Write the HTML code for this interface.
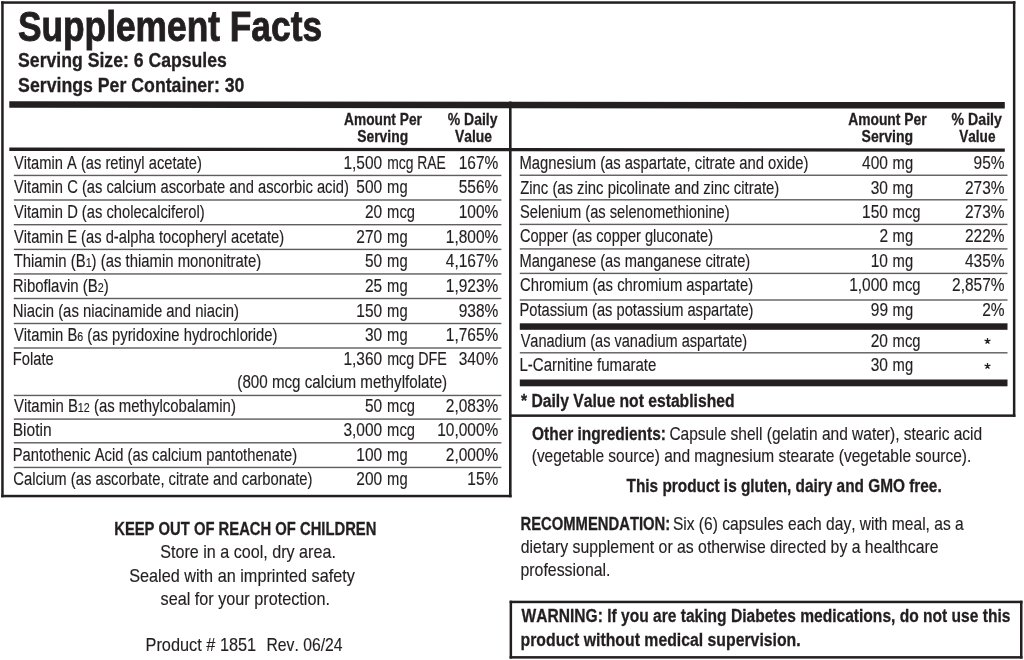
<!DOCTYPE html>
<html><head><meta charset="utf-8"><title>Supplement Facts</title>
<style>
html,body{margin:0;padding:0;background:#fff;}
body{width:1024px;height:660px;overflow:hidden;}
svg{display:block;filter:blur(0.3px);}
text{font-family:"Liberation Sans",sans-serif;font-kerning:none;stroke:#231f20;stroke-width:0.15px;}
text[font-weight=bold]{stroke-width:0.3px;}
text.title{stroke-width:0.9px;}
</style></head><body>
<svg width="1024" height="660" viewBox="0 0 1024 660">
<rect width="1024" height="660" fill="#fff"/>
<rect x="1.20" y="1.30" width="1014.20" height="2.50" fill="#231f20"/>
<rect x="1.20" y="1.30" width="2.50" height="496.00" fill="#231f20"/>
<rect x="1.20" y="494.80" width="510.40" height="2.50" fill="#231f20"/>
<rect x="509.00" y="101.50" width="2.60" height="395.80" fill="#231f20"/>
<rect x="1012.90" y="1.30" width="2.50" height="415.60" fill="#231f20"/>
<rect x="509.30" y="414.40" width="506.10" height="2.50" fill="#231f20"/>
<text class="title" x="17.88" y="40.50" font-size="43.00" font-weight="bold" textLength="304.17" lengthAdjust="spacingAndGlyphs" fill="#231f20">Supplement Facts</text>
<text x="18.09" y="66.70" font-size="20.00" font-weight="bold" textLength="208.73" lengthAdjust="spacingAndGlyphs" fill="#231f20">Serving Size: 6 Capsules</text>
<text x="18.09" y="92.00" font-size="20.00" font-weight="bold" textLength="226.39" lengthAdjust="spacingAndGlyphs" fill="#231f20">Servings Per Container: 30</text>
<polygon points="9.30,101.20 1004.80,102.10 1004.80,108.60 9.30,107.70" fill="#231f20"/>
<polygon points="9.30,147.50 1004.80,148.60 1004.80,151.80 9.30,150.90" fill="#231f20"/>
<text x="344.06" y="124.80" font-size="16.50" font-weight="bold" textLength="77.85" lengthAdjust="spacingAndGlyphs" fill="#231f20">Amount Per</text>
<text x="357.20" y="142.20" font-size="16.50" font-weight="bold" textLength="50.93" lengthAdjust="spacingAndGlyphs" fill="#231f20">Serving</text>
<text x="447.85" y="124.80" font-size="16.50" font-weight="bold" textLength="49.62" lengthAdjust="spacingAndGlyphs" fill="#231f20">% Daily</text>
<text x="454.91" y="142.20" font-size="16.50" font-weight="bold" textLength="37.07" lengthAdjust="spacingAndGlyphs" fill="#231f20">Value</text>
<text x="848.16" y="124.90" font-size="16.50" font-weight="bold" textLength="78.45" lengthAdjust="spacingAndGlyphs" fill="#231f20">Amount Per</text>
<text x="861.60" y="141.70" font-size="16.50" font-weight="bold" textLength="51.54" lengthAdjust="spacingAndGlyphs" fill="#231f20">Serving</text>
<text x="951.55" y="124.90" font-size="16.50" font-weight="bold" textLength="50.33" lengthAdjust="spacingAndGlyphs" fill="#231f20">% Daily</text>
<text x="959.21" y="141.70" font-size="16.50" font-weight="bold" textLength="36.26" lengthAdjust="spacingAndGlyphs" fill="#231f20">Value</text>
<rect x="13.80" y="174.75" width="487.60" height="1.40" fill="#5f5d5d"/>
<rect x="13.80" y="199.30" width="487.60" height="1.40" fill="#5f5d5d"/>
<rect x="13.80" y="224.00" width="487.60" height="1.40" fill="#5f5d5d"/>
<rect x="13.80" y="248.70" width="487.60" height="1.40" fill="#5f5d5d"/>
<rect x="13.80" y="273.25" width="487.60" height="1.40" fill="#5f5d5d"/>
<rect x="13.80" y="297.80" width="487.60" height="1.40" fill="#5f5d5d"/>
<rect x="13.80" y="322.80" width="487.60" height="1.40" fill="#5f5d5d"/>
<rect x="13.80" y="347.30" width="487.60" height="1.40" fill="#5f5d5d"/>
<rect x="13.80" y="394.75" width="487.60" height="1.40" fill="#5f5d5d"/>
<rect x="13.80" y="418.40" width="487.60" height="1.40" fill="#5f5d5d"/>
<rect x="13.80" y="442.10" width="487.60" height="1.40" fill="#5f5d5d"/>
<rect x="13.80" y="466.75" width="487.60" height="1.40" fill="#5f5d5d"/>
<text x="13.94" y="168.90" font-size="17.60" textLength="187.88" lengthAdjust="spacingAndGlyphs" fill="#231f20">Vitamin A (as retinyl acetate)</text>
<text x="343.45" y="168.90" font-size="17.60" textLength="38.75" lengthAdjust="spacingAndGlyphs" fill="#231f20">1,500</text>
<text x="387.18" y="168.90" font-size="17.60" textLength="58.62" lengthAdjust="spacingAndGlyphs" fill="#231f20">mcg RAE</text>
<text x="458.75" y="168.90" font-size="17.60" textLength="39.60" lengthAdjust="spacingAndGlyphs" fill="#231f20">167%</text>
<text x="13.94" y="193.40" font-size="17.60" textLength="334.88" lengthAdjust="spacingAndGlyphs" fill="#231f20">Vitamin C (as calcium ascorbate and ascorbic acid)</text>
<text x="356.37" y="193.40" font-size="17.60" textLength="25.84" lengthAdjust="spacingAndGlyphs" fill="#231f20">500</text>
<text x="387.12" y="193.40" font-size="17.60" textLength="20.48" lengthAdjust="spacingAndGlyphs" fill="#231f20">mg</text>
<text x="458.75" y="193.40" font-size="17.60" textLength="39.60" lengthAdjust="spacingAndGlyphs" fill="#231f20">556%</text>
<text x="13.94" y="218.00" font-size="17.60" textLength="190.68" lengthAdjust="spacingAndGlyphs" fill="#231f20">Vitamin D (as cholecalciferol)</text>
<text x="364.98" y="218.00" font-size="17.60" textLength="17.22" lengthAdjust="spacingAndGlyphs" fill="#231f20">20</text>
<text x="387.12" y="218.00" font-size="17.60" textLength="27.85" lengthAdjust="spacingAndGlyphs" fill="#231f20">mcg</text>
<text x="458.75" y="218.00" font-size="17.60" textLength="39.60" lengthAdjust="spacingAndGlyphs" fill="#231f20">100%</text>
<text x="13.94" y="242.80" font-size="17.60" textLength="270.28" lengthAdjust="spacingAndGlyphs" fill="#231f20">Vitamin E (as d-alpha tocopheryl acetate)</text>
<text x="356.37" y="242.80" font-size="17.60" textLength="25.84" lengthAdjust="spacingAndGlyphs" fill="#231f20">270</text>
<text x="387.12" y="242.80" font-size="17.60" textLength="20.48" lengthAdjust="spacingAndGlyphs" fill="#231f20">mg</text>
<text x="445.83" y="242.80" font-size="17.60" textLength="52.52" lengthAdjust="spacingAndGlyphs" fill="#231f20">1,800%</text>
<text x="13.67" y="267.30" font-size="17.60" textLength="247.56" lengthAdjust="spacingAndGlyphs" fill="#231f20">Thiamin (B<tspan font-size="12.67">1</tspan>) (as thiamin mononitrate)</text>
<text x="364.98" y="267.30" font-size="17.60" textLength="17.22" lengthAdjust="spacingAndGlyphs" fill="#231f20">50</text>
<text x="387.12" y="267.30" font-size="17.60" textLength="20.48" lengthAdjust="spacingAndGlyphs" fill="#231f20">mg</text>
<text x="445.83" y="267.30" font-size="17.60" textLength="52.52" lengthAdjust="spacingAndGlyphs" fill="#231f20">4,167%</text>
<text x="12.77" y="291.80" font-size="17.60" textLength="95.96" lengthAdjust="spacingAndGlyphs" fill="#231f20">Riboflavin (B<tspan font-size="12.67">2</tspan>)</text>
<text x="365.03" y="291.80" font-size="17.60" textLength="17.22" lengthAdjust="spacingAndGlyphs" fill="#231f20">25</text>
<text x="387.12" y="291.80" font-size="17.60" textLength="20.48" lengthAdjust="spacingAndGlyphs" fill="#231f20">mg</text>
<text x="445.83" y="291.80" font-size="17.60" textLength="52.52" lengthAdjust="spacingAndGlyphs" fill="#231f20">1,923%</text>
<text x="12.78" y="316.80" font-size="17.60" textLength="226.24" lengthAdjust="spacingAndGlyphs" fill="#231f20">Niacin (as niacinamide and niacin)</text>
<text x="356.37" y="316.80" font-size="17.60" textLength="25.84" lengthAdjust="spacingAndGlyphs" fill="#231f20">150</text>
<text x="387.12" y="316.80" font-size="17.60" textLength="20.48" lengthAdjust="spacingAndGlyphs" fill="#231f20">mg</text>
<text x="458.75" y="316.80" font-size="17.60" textLength="39.60" lengthAdjust="spacingAndGlyphs" fill="#231f20">938%</text>
<text x="13.93" y="341.20" font-size="17.60" textLength="263.58" lengthAdjust="spacingAndGlyphs" fill="#231f20">Vitamin B<tspan font-size="12.67">6</tspan> (as pyridoxine hydrochloride)</text>
<text x="364.98" y="341.20" font-size="17.60" textLength="17.22" lengthAdjust="spacingAndGlyphs" fill="#231f20">30</text>
<text x="387.12" y="341.20" font-size="17.60" textLength="20.48" lengthAdjust="spacingAndGlyphs" fill="#231f20">mg</text>
<text x="445.83" y="341.20" font-size="17.60" textLength="52.52" lengthAdjust="spacingAndGlyphs" fill="#231f20">1,765%</text>
<text x="12.79" y="365.20" font-size="17.60" textLength="40.96" lengthAdjust="spacingAndGlyphs" fill="#231f20">Folate</text>
<text x="343.45" y="365.20" font-size="17.60" textLength="38.75" lengthAdjust="spacingAndGlyphs" fill="#231f20">1,360</text>
<text x="387.15" y="365.20" font-size="17.60" textLength="59.67" lengthAdjust="spacingAndGlyphs" fill="#231f20">mcg DFE</text>
<text x="458.75" y="365.20" font-size="17.60" textLength="39.60" lengthAdjust="spacingAndGlyphs" fill="#231f20">340%</text>
<text x="13.93" y="412.40" font-size="17.60" textLength="221.99" lengthAdjust="spacingAndGlyphs" fill="#231f20">Vitamin B<tspan font-size="12.67">12</tspan> (as methylcobalamin)</text>
<text x="364.98" y="412.40" font-size="17.60" textLength="17.22" lengthAdjust="spacingAndGlyphs" fill="#231f20">50</text>
<text x="387.12" y="412.40" font-size="17.60" textLength="27.85" lengthAdjust="spacingAndGlyphs" fill="#231f20">mcg</text>
<text x="445.83" y="412.40" font-size="17.60" textLength="52.52" lengthAdjust="spacingAndGlyphs" fill="#231f20">2,083%</text>
<text x="12.72" y="436.20" font-size="17.60" textLength="38.88" lengthAdjust="spacingAndGlyphs" fill="#231f20">Biotin</text>
<text x="343.45" y="436.20" font-size="17.60" textLength="38.75" lengthAdjust="spacingAndGlyphs" fill="#231f20">3,000</text>
<text x="387.12" y="436.20" font-size="17.60" textLength="27.85" lengthAdjust="spacingAndGlyphs" fill="#231f20">mcg</text>
<text x="437.22" y="436.20" font-size="17.60" textLength="61.13" lengthAdjust="spacingAndGlyphs" fill="#231f20">10,000%</text>
<text x="12.79" y="460.90" font-size="17.60" textLength="284.42" lengthAdjust="spacingAndGlyphs" fill="#231f20">Pantothenic Acid (as calcium pantothenate)</text>
<text x="356.37" y="460.90" font-size="17.60" textLength="25.84" lengthAdjust="spacingAndGlyphs" fill="#231f20">100</text>
<text x="387.12" y="460.90" font-size="17.60" textLength="20.48" lengthAdjust="spacingAndGlyphs" fill="#231f20">mg</text>
<text x="445.83" y="460.90" font-size="17.60" textLength="52.52" lengthAdjust="spacingAndGlyphs" fill="#231f20">2,000%</text>
<text x="13.25" y="485.40" font-size="17.60" textLength="299.27" lengthAdjust="spacingAndGlyphs" fill="#231f20">Calcium (as ascorbate, citrate and carbonate)</text>
<text x="356.37" y="485.40" font-size="17.60" textLength="25.84" lengthAdjust="spacingAndGlyphs" fill="#231f20">200</text>
<text x="387.12" y="485.40" font-size="17.60" textLength="20.48" lengthAdjust="spacingAndGlyphs" fill="#231f20">mg</text>
<text x="467.36" y="485.40" font-size="17.60" textLength="30.99" lengthAdjust="spacingAndGlyphs" fill="#231f20">15%</text>
<text x="237.36" y="388.40" font-size="17.60" textLength="209.78" lengthAdjust="spacingAndGlyphs" fill="#231f20">(800 mcg calcium methylfolate)</text>
<rect x="519.80" y="174.55" width="487.70" height="1.40" fill="#5f5d5d"/>
<rect x="519.80" y="199.10" width="487.70" height="1.40" fill="#5f5d5d"/>
<rect x="519.80" y="223.70" width="487.70" height="1.40" fill="#5f5d5d"/>
<rect x="519.80" y="248.20" width="487.70" height="1.40" fill="#5f5d5d"/>
<rect x="519.80" y="272.70" width="487.70" height="1.40" fill="#5f5d5d"/>
<rect x="519.80" y="299.30" width="487.70" height="1.40" fill="#5f5d5d"/>
<rect x="519.80" y="352.10" width="487.70" height="1.40" fill="#5f5d5d"/>
<rect x="519.80" y="323.30" width="487.70" height="6.50" fill="#231f20"/>
<rect x="519.80" y="379.50" width="487.70" height="6.80" fill="#231f20"/>
<text x="519.49" y="169.00" font-size="17.60" textLength="288.93" lengthAdjust="spacingAndGlyphs" fill="#231f20">Magnesium (as aspartate, citrate and oxide)</text>
<text x="862.07" y="169.00" font-size="17.60" textLength="25.84" lengthAdjust="spacingAndGlyphs" fill="#231f20">400</text>
<text x="892.62" y="169.00" font-size="17.60" textLength="20.48" lengthAdjust="spacingAndGlyphs" fill="#231f20">mg</text>
<text x="973.56" y="169.00" font-size="17.60" textLength="30.99" lengthAdjust="spacingAndGlyphs" fill="#231f20">95%</text>
<text x="520.23" y="193.50" font-size="17.60" textLength="258.99" lengthAdjust="spacingAndGlyphs" fill="#231f20">Zinc (as zinc picolinate and zinc citrate)</text>
<text x="870.68" y="193.50" font-size="17.60" textLength="17.22" lengthAdjust="spacingAndGlyphs" fill="#231f20">30</text>
<text x="892.62" y="193.50" font-size="17.60" textLength="20.48" lengthAdjust="spacingAndGlyphs" fill="#231f20">mg</text>
<text x="964.95" y="193.50" font-size="17.60" textLength="39.60" lengthAdjust="spacingAndGlyphs" fill="#231f20">273%</text>
<text x="520.03" y="217.90" font-size="17.60" textLength="209.58" lengthAdjust="spacingAndGlyphs" fill="#231f20">Selenium (as selenomethionine)</text>
<text x="862.07" y="217.90" font-size="17.60" textLength="25.84" lengthAdjust="spacingAndGlyphs" fill="#231f20">150</text>
<text x="892.62" y="217.90" font-size="17.60" textLength="27.85" lengthAdjust="spacingAndGlyphs" fill="#231f20">mcg</text>
<text x="964.95" y="217.90" font-size="17.60" textLength="39.60" lengthAdjust="spacingAndGlyphs" fill="#231f20">273%</text>
<text x="519.96" y="242.20" font-size="17.60" textLength="193.15" lengthAdjust="spacingAndGlyphs" fill="#231f20">Copper (as copper gluconate)</text>
<text x="879.47" y="242.20" font-size="17.60" textLength="8.61" lengthAdjust="spacingAndGlyphs" fill="#231f20">2</text>
<text x="892.62" y="242.20" font-size="17.60" textLength="20.48" lengthAdjust="spacingAndGlyphs" fill="#231f20">mg</text>
<text x="964.95" y="242.20" font-size="17.60" textLength="39.60" lengthAdjust="spacingAndGlyphs" fill="#231f20">222%</text>
<text x="519.50" y="267.00" font-size="17.60" textLength="230.71" lengthAdjust="spacingAndGlyphs" fill="#231f20">Manganese (as manganese citrate)</text>
<text x="870.68" y="267.00" font-size="17.60" textLength="17.22" lengthAdjust="spacingAndGlyphs" fill="#231f20">10</text>
<text x="892.62" y="267.00" font-size="17.60" textLength="20.48" lengthAdjust="spacingAndGlyphs" fill="#231f20">mg</text>
<text x="964.95" y="267.00" font-size="17.60" textLength="39.60" lengthAdjust="spacingAndGlyphs" fill="#231f20">435%</text>
<text x="519.95" y="291.30" font-size="17.60" textLength="233.17" lengthAdjust="spacingAndGlyphs" fill="#231f20">Chromium (as chromium aspartate)</text>
<text x="849.15" y="291.30" font-size="17.60" textLength="38.75" lengthAdjust="spacingAndGlyphs" fill="#231f20">1,000</text>
<text x="892.62" y="291.30" font-size="17.60" textLength="27.85" lengthAdjust="spacingAndGlyphs" fill="#231f20">mcg</text>
<text x="952.03" y="291.30" font-size="17.60" textLength="52.52" lengthAdjust="spacingAndGlyphs" fill="#231f20">2,857%</text>
<text x="519.50" y="316.10" font-size="17.60" textLength="234.01" lengthAdjust="spacingAndGlyphs" fill="#231f20">Potassium (as potassium aspartate)</text>
<text x="870.81" y="316.10" font-size="17.60" textLength="17.22" lengthAdjust="spacingAndGlyphs" fill="#231f20">99</text>
<text x="892.62" y="316.10" font-size="17.60" textLength="20.48" lengthAdjust="spacingAndGlyphs" fill="#231f20">mg</text>
<text x="982.17" y="316.10" font-size="17.60" textLength="22.38" lengthAdjust="spacingAndGlyphs" fill="#231f20">2%</text>
<text x="520.64" y="347.20" font-size="17.60" textLength="226.57" lengthAdjust="spacingAndGlyphs" fill="#231f20">Vanadium (as vanadium aspartate)</text>
<text x="870.68" y="347.20" font-size="17.60" textLength="17.22" lengthAdjust="spacingAndGlyphs" fill="#231f20">20</text>
<text x="892.62" y="347.20" font-size="17.60" textLength="27.85" lengthAdjust="spacingAndGlyphs" fill="#231f20">mcg</text>
<text x="519.47" y="371.00" font-size="17.60" textLength="136.90" lengthAdjust="spacingAndGlyphs" fill="#231f20">L-Carnitine fumarate</text>
<text x="870.68" y="371.00" font-size="17.60" textLength="17.22" lengthAdjust="spacingAndGlyphs" fill="#231f20">30</text>
<text x="892.62" y="371.00" font-size="17.60" textLength="20.48" lengthAdjust="spacingAndGlyphs" fill="#231f20">mg</text>
<path d="M987.50 341.20L987.50 338.10M987.50 341.20L990.45 340.24M987.50 341.20L989.32 343.71M987.50 341.20L985.68 343.71M987.50 341.20L984.55 340.24" stroke="#231f20" stroke-width="1.30" stroke-linecap="butt"/>
<path d="M987.50 366.00L987.50 362.90M987.50 366.00L990.45 365.04M987.50 366.00L989.32 368.51M987.50 366.00L985.68 368.51M987.50 366.00L984.55 365.04" stroke="#231f20" stroke-width="1.30" stroke-linecap="butt"/>
<text x="520.95" y="407.00" font-size="18.00" font-weight="bold" textLength="213.58" lengthAdjust="spacingAndGlyphs" fill="#231f20">* Daily Value not established</text>
<text x="532.07" y="439.90" font-size="18.50" font-weight="bold" textLength="133.82" lengthAdjust="spacingAndGlyphs" fill="#231f20">Other ingredients:</text>
<text x="669.41" y="439.90" font-size="18.50" textLength="312.79" lengthAdjust="spacingAndGlyphs" fill="#231f20">Capsule shell (gelatin and water), stearic acid</text>
<text x="531.74" y="462.20" font-size="18.50" textLength="439.47" lengthAdjust="spacingAndGlyphs" fill="#231f20">(vegetable source) and magnesium stearate (vegetable source).</text>
<text x="626.53" y="492.40" font-size="18.50" font-weight="bold" textLength="315.13" lengthAdjust="spacingAndGlyphs" fill="#231f20">This product is gluten, dairy and GMO free.</text>
<text x="520.51" y="529.60" font-size="18.50" font-weight="bold" textLength="149.71" lengthAdjust="spacingAndGlyphs" fill="#231f20">RECOMMENDATION:</text>
<text x="672.89" y="529.60" font-size="18.50" textLength="290.81" lengthAdjust="spacingAndGlyphs" fill="#231f20">Six (6) capsules each day, with meal, as a</text>
<text x="520.84" y="552.80" font-size="18.50" textLength="417.76" lengthAdjust="spacingAndGlyphs" fill="#231f20">dietary supplement or as otherwise directed by a healthcare</text>
<text x="520.48" y="576.20" font-size="18.50" textLength="90.07" lengthAdjust="spacingAndGlyphs" fill="#231f20">professional.</text>
<rect x="509.60" y="600.70" width="512.90" height="2.50" fill="#231f20"/>
<rect x="509.60" y="656.10" width="512.90" height="2.50" fill="#231f20"/>
<rect x="509.60" y="600.70" width="2.50" height="57.90" fill="#231f20"/>
<rect x="1020.00" y="600.70" width="2.50" height="57.90" fill="#231f20"/>
<text x="521.58" y="622.30" font-size="19.20" font-weight="bold" textLength="488.85" lengthAdjust="spacingAndGlyphs" fill="#231f20">WARNING: If you are taking Diabetes medications, do not use this</text>
<text x="520.56" y="645.60" font-size="19.20" font-weight="bold" textLength="280.13" lengthAdjust="spacingAndGlyphs" fill="#231f20">product without medical supervision.</text>
<text x="114.21" y="534.60" font-size="19.00" font-weight="bold" textLength="262.19" lengthAdjust="spacingAndGlyphs" fill="#231f20">KEEP OUT OF REACH OF CHILDREN</text>
<text x="160.27" y="557.90" font-size="18.50" textLength="175.60" lengthAdjust="spacingAndGlyphs" fill="#231f20">Store in a cool, dry area.</text>
<text x="129.16" y="581.60" font-size="18.50" textLength="225.77" lengthAdjust="spacingAndGlyphs" fill="#231f20">Sealed with an imprinted safety</text>
<text x="160.55" y="604.90" font-size="18.50" textLength="169.43" lengthAdjust="spacingAndGlyphs" fill="#231f20">seal for your protection.</text>
<text x="145.56" y="650.60" font-size="18.50" textLength="110.63" lengthAdjust="spacingAndGlyphs" fill="#231f20">Product # 1851</text>
<text x="266.51" y="650.60" font-size="18.50" textLength="76.05" lengthAdjust="spacingAndGlyphs" fill="#231f20">Rev. 06/24</text>
</svg>
</body></html>
